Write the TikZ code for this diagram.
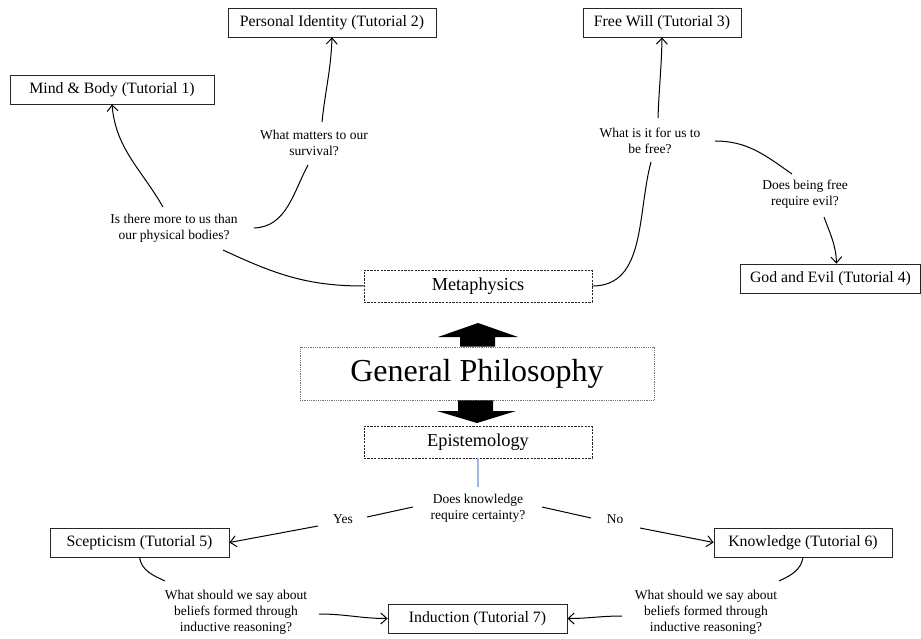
\documentclass[tikz,border=0pt]{standalone}
\usepackage{fontspec}
\setmainfont{Liberation Serif}
\usetikzlibrary{arrows.meta}
\definecolor{bluelink}{HTML}{9DB9DC}
\tikzset{
  tutbox/.style={draw=black!85, line width=0.9pt, minimum height=29pt, inner sep=0pt, font=\fontsize{15.8}{18}\selectfont},
  areabox/.style={draw=black!85, line width=0.8pt, dash pattern=on 2.2pt off 1.2pt, minimum width=228pt, minimum height=32pt, inner sep=0pt, font=\fontsize{18.3}{20}\selectfont},
  mainbox/.style={draw=black!55, line width=0.8pt, dash pattern=on 0.9pt off 0.9pt, minimum width=354pt, minimum height=53pt, inner sep=0pt, font=\fontsize{32}{36}\selectfont},
  question/.style={align=center, inner sep=0pt, font=\fontsize{13.5}{16}\selectfont},
  link/.style={draw=black, line width=1pt},
  arrowlink/.style={link, -{Straight Barb[length=6pt,width=11pt,line width=1pt]}},
  blockarrow/.style={fill=black}
}
\begin{document}
\begin{tikzpicture}[x=1pt,y=-1pt]
\useasboundingbox (0,0) rectangle (921,639);

% boxes
\node[tutbox, minimum width=204pt] (mb) at (112,89.5) {Mind \& Body (Tutorial 1)};
\node[tutbox, minimum width=208pt] (pi) at (332,22.5) {Personal Identity (Tutorial 2)};
\node[tutbox, minimum width=158pt] (fw) at (662,22.5) {Free Will (Tutorial 3)};
\node[tutbox, minimum width=180pt] (ge) at (830.5,278.5) {God and Evil (Tutorial 4)};
\node[areabox] (meta) at (478,286) {Metaphysics};
\node[mainbox] (gp) at (477,373.5) {General Philosophy};
\node[areabox] (epi) at (478,442) {Epistemology};
\node[tutbox, minimum width=179pt] (sc) at (139.5,542.5) {Scepticism (Tutorial 5)};
\node[tutbox, minimum width=178pt] (kn) at (803,542.5) {Knowledge (Tutorial 6)};
\node[tutbox, minimum width=179pt] (ind) at (477.5,618.5) {Induction (Tutorial 7)};

% questions
\node[question] (q1) at (174,228) {Is there more to us than\\our physical bodies?};
\node[question] (q2) at (314,143) {What matters to our\\survival?};
\node[question] (q3) at (650,141) {What is it for us to\\be free?};
\node[question] (q4) at (805,194) {Does being free\\require evil?};
\node[question] (q5) at (478,508) {Does knowledge\\require certainty?};
\node[question] (yes) at (343,519) {Yes};
\node[question] (no) at (615,519) {No};
\node[question] (q6) at (236,612) {What should we say about\\beliefs formed through\\inductive reasoning?};
\node[question] (q7) at (706,612) {What should we say about\\beliefs formed through\\inductive reasoning?};

% block arrows
\fill[blockarrow] (gp.north -| 460,0) -- (460,337) -- (438,337) -- (478,323) -- (518,337) -- (495,337) -- (gp.north -| 495,0) -- cycle;
\fill[blockarrow] (gp.south -| 458,0) -- (458,411) -- (437,411) -- (477,423) -- (516,411) -- (493,411) -- (gp.south -| 493,0) -- cycle;

% metaphysics links
\draw[link] (meta.west) to[out=180,in=-25] ([shift={(49,22)}]q1.center);
\draw[arrowlink] ([shift={(-11,-21)}]q1.center) to[out=120,in=-85] (mb.south);
\draw[link] ([shift={(80,0)}]q1.center) to[out=2,in=-118] ([shift={(-6,22)}]q2.center);
\draw[arrowlink] ([shift={(8,-21)}]q2.center) to[out=84,in=-92] (pi.south);
\draw[link] (meta.east) to[out=0,in=-105] ([shift={(1,21)}]q3.center);
\draw[arrowlink] ([shift={(8,-23)}]q3.center) to[out=88,in=-91] (fw.south);
\draw[link] ([shift={(65,0)}]q3.center) to[out=0,in=145] ([shift={(-13,-20)}]q4.center);
\draw[arrowlink] ([shift={(19,23)}]q4.center) to[out=-70,in=92] ([shift={(6,0)}]ge.north);

% epistemology links
\draw[bluelink, line width=1.2pt] (epi.south) -- ([shift={(0,-21)}]q5.center);
\draw[link] ([shift={(-65,-1)}]q5.center) -- ([shift={(24,-2)}]yes.center);
\draw[arrowlink] ([shift={(-25,7)}]yes.center) -- (sc.east);
\draw[link] ([shift={(64,-1)}]q5.center) -- ([shift={(-24,-1)}]no.center);
\draw[arrowlink] ([shift={(25,9)}]no.center) -- (kn.west);
\draw[link] (sc.south) to[out=-80,in=155] ([shift={(-71,-31)}]q6.center);
\draw[arrowlink] ([shift={(83,2)}]q6.center) to[out=0,in=180] (ind.west);
\draw[link] (kn.south) to[out=-100,in=25] ([shift={(73,-31)}]q7.center);
\draw[arrowlink] ([shift={(-84,4)}]q7.center) to[out=180,in=0] (ind.east);
\end{tikzpicture}
\end{document}
